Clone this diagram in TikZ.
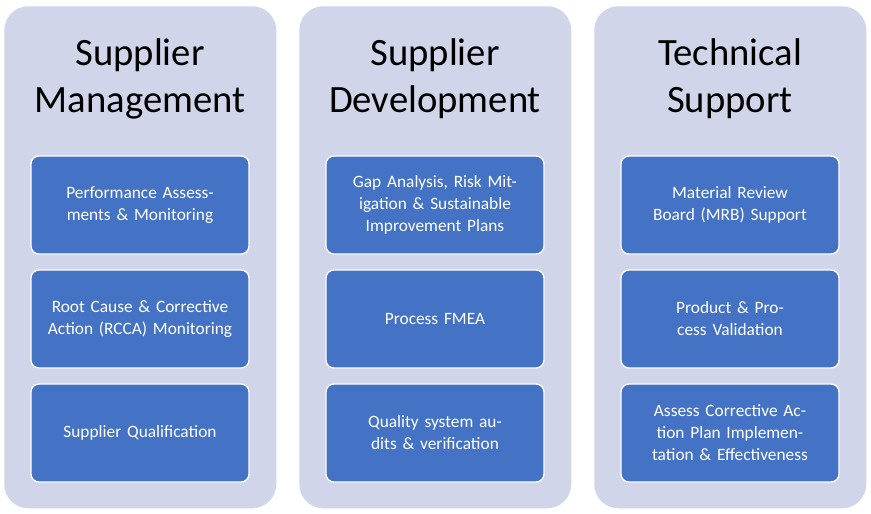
\documentclass[tikz,border=0pt]{standalone}
\usepackage{fontspec}
\setmainfont{Carlito}
\definecolor{panelbg}{RGB}{208,213,234}
\definecolor{itembg}{RGB}{68,114,196}
\tikzset{
  panel/.style={fill=panelbg,rounded corners=18pt,minimum width=204pt,minimum height=376.5pt,anchor=north west},
  title/.style={font=\fontsize{29}{35}\selectfont,align=center,text=black},
  item/.style={fill=itembg,draw=white,line width=1pt,rounded corners=6pt,minimum width=163.5pt,minimum height=73.5pt,text width=155pt,align=center,text=white,font=\fontsize{13}{16.5}\selectfont}
}
\begin{document}
\begin{tikzpicture}[x=0.75pt,y=-0.75pt]
    \useasboundingbox(0,0)rectangle(871,514);
    \node[panel](p1)at(4,6){};
    \node[panel](p2)at(299,6){};
    \node[panel](p3)at(594,6){};

    \node[title](t1)at(140,79){Supplier\\Management};
    \node[title](t2)at(435,79){Supplier\\Development};
    \node[title](t3)at(730,79){Technical\\Support};

    \node[item](a1)at(140,205){Performance Assessments \& Monitoring};
    \node[item](a2)at(140,319){Root Cause \& Corrective Action (RCCA) Monitoring};
    \node[item](a3)at(140,433){Supplier Qualification};

    \node[item](b1)at(435,205){Gap Analysis, Risk Mitigation \& Sustainable Improvement Plans};
    \node[item](b2)at(435,319){Process FMEA};
    \node[item](b3)at(435,433){Quality system audits \& verification};

    \node[item](c1)at(730,205){Material Review Board (MRB) Support};
    \node[item](c2)at(730,319){Product \& Process Validation};
    \node[item](c3)at(730,433){Assess Corrective Action Plan Implementation \& Effectiveness};
\end{tikzpicture}
\end{document}
